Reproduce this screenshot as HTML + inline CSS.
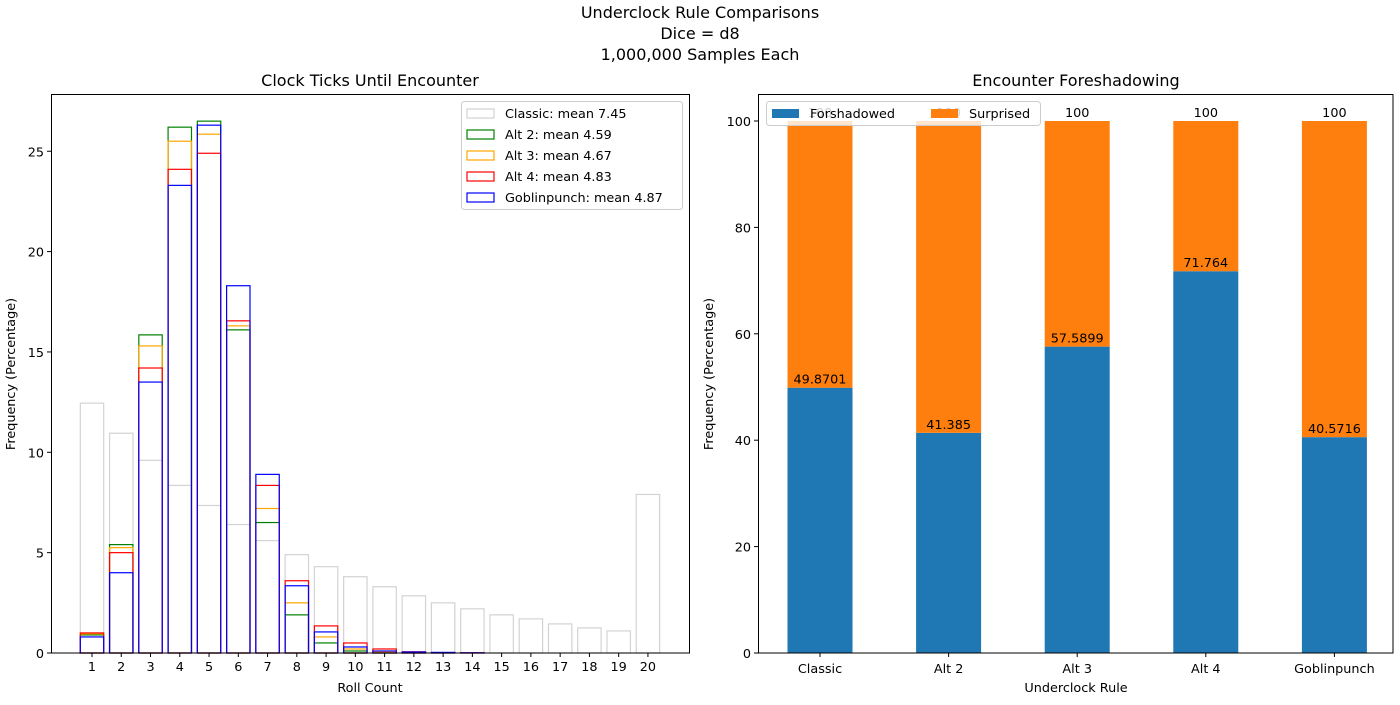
<!DOCTYPE html>
<html><head><meta charset="utf-8"><style>
body{margin:0;background:#fff;}
svg{font-family:"DejaVu Sans","Liberation Sans",sans-serif;}
</style></head><body>
<svg id="c" width="1400" height="700" xmlns="http://www.w3.org/2000/svg">
<text x="700" y="18" text-anchor="middle" font-size="16">Underclock Rule Comparisons</text>
<text x="700" y="39" text-anchor="middle" font-size="16">Dice = d8</text>
<text x="700" y="60" text-anchor="middle" font-size="16">1,000,000 Samples Each</text>
<g id="left"></g>
<g id="right"></g>
</svg>
<script>
const rolls=[1,2,3,4,5,6,7,8,9,10,11,12,13,14,15,16,17,18,19,20];
const classic=[12.45,10.95,9.6,8.35,7.35,6.4,5.6,4.9,4.3,3.8,3.3,2.85,2.5,2.2,1.9,1.7,1.45,1.25,1.1,7.9];
const alt2=[0.9,5.4,15.85,26.2,26.5,16.1,6.5,1.9,0.5,0.1,0.02,0,0,0,0,0,0,0,0,0];
const alt3=[0.95,5.25,15.3,25.5,25.85,16.3,7.2,2.5,0.8,0.2,0.05,0.01,0,0,0,0,0,0,0,0];
const alt4=[1.0,5.0,14.2,24.1,24.9,16.55,8.35,3.6,1.35,0.5,0.2,0.06,0.02,0.01,0,0,0,0,0,0];
const goblin=[0.8,4.0,13.5,23.3,26.3,18.3,8.9,3.35,1.05,0.3,0.1,0.05,0.03,0.01,0,0,0,0,0,0];
const seriesNames=["Classic: mean 7.45","Alt 2: mean 4.59","Alt 3: mean 4.67","Alt 4: mean 4.83","Goblinpunch: mean 4.87"];
const leftTicks=[0,5,10,15,20,25];
const rules=["Classic","Alt 2","Alt 3","Alt 4","Goblinpunch"];
const forshadowed=[49.8701,41.385,57.5899,71.764,40.5716];
const surprised=[50.1299,58.615,42.4101,28.236,59.4284];
const rightTicks=[0,20,40,60,80,100];

const NS="http://www.w3.org/2000/svg";
function mk(p,t,a,txt){const e=document.createElementNS(NS,t);for(const k in a)e.setAttribute(k,a[k]);if(txt!==undefined)e.textContent=txt;p.appendChild(e);return e;}

// LEFT
const L=document.getElementById('left');
const lx=v=>92+(v-1)*29.26, ly=v=>653-v*20.07;
const cols=["#d3d3d3","green","orange","red","blue"];
const sets=[classic,alt2,alt3,alt4,goblin];
sets.forEach((s,si)=>{s.forEach((v,i)=>{
 const r=mk(L,'rect',{x:lx(rolls[i])-11.7,y:ly(v),width:23.4,height:653-ly(v),fill:'none',stroke:cols[si],'stroke-width':1.2});
 
 
});});
mk(L,'rect',{x:51.5,y:94.5,width:638,height:558.5,fill:'none',stroke:'#000','stroke-width':1});
rolls.forEach(r=>{mk(L,'line',{x1:lx(r),x2:lx(r),y1:653,y2:657,stroke:'#000'});
 const t=mk(L,'text',{x:lx(r),y:671,'text-anchor':'middle','font-size':12.8},r);
 });
leftTicks.forEach(v=>{mk(L,'line',{x1:47,x2:51,y1:ly(v),y2:ly(v),stroke:'#000'});
 const t=mk(L,'text',{x:44,y:ly(v)+5,'text-anchor':'end','font-size':12.8},v);
 });
mk(L,'text',{x:370,y:692,'text-anchor':'middle','font-size':12.8,},'Roll Count');
mk(L,'text',{x:15,y:374,'text-anchor':'middle','font-size':12.8,transform:'rotate(-90 15 374)',},'Frequency (Percentage)');
mk(L,'text',{x:370,y:86,'text-anchor':'middle','font-size':16,},'Clock Ticks Until Encounter');
mk(L,'rect',{x:461.5,y:101.5,width:221,height:108,rx:3,fill:'#fff',stroke:'#ccc',});
seriesNames.forEach((n,i)=>{const y=113+i*21;
 mk(L,'rect',{x:467,y:y-4,width:27,height:9,fill:'none',stroke:cols[i],'stroke-width':1.2});
 const t=mk(L,'text',{x:505,y:y+5,'font-size':12.8},n);
 });

// RIGHT
const R=document.getElementById('right');
const rx=i=>820+i*128.6, ry=v=>653-v*5.32;
rules.forEach((r,i)=>{
 const b=mk(R,'rect',{x:rx(i)-32.5,y:ry(forshadowed[i]),width:65,height:653-ry(forshadowed[i]),fill:'#1f77b4'});
 
 const tot=forshadowed[i]+surprised[i];
 const s=mk(R,'rect',{x:rx(i)-32.5,y:ry(tot),width:65,height:ry(forshadowed[i])-ry(tot),fill:'#ff7f0e'});
 
 mk(R,'text',{x:rx(i),y:ry(forshadowed[i])-4,'text-anchor':'middle','font-size':12.8},String(forshadowed[i]));
 mk(R,'text',{x:rx(i),y:ry(tot)-4,'text-anchor':'middle','font-size':12.8},String(Math.round(tot)));
 mk(R,'line',{x1:rx(i),x2:rx(i),y1:653,y2:657,stroke:'#000'});
 const t=mk(R,'text',{x:rx(i),y:673,'text-anchor':'middle','font-size':12.8},r);
 
});
mk(R,'rect',{x:758.5,y:94.5,width:634.5,height:558.5,fill:'none',stroke:'#000'});
rightTicks.forEach(v=>{mk(R,'line',{x1:754,x2:758,y1:ry(v),y2:ry(v),stroke:'#000'});
 const t=mk(R,'text',{x:751,y:ry(v)+5,'text-anchor':'end','font-size':12.8},v);
 });
mk(R,'text',{x:1076,y:692,'text-anchor':'middle','font-size':12.8,},'Underclock Rule');
mk(R,'text',{x:713,y:374,'text-anchor':'middle','font-size':12.8,transform:'rotate(-90 713 374)',},'Frequency (Percentage)');
mk(R,'text',{x:1076,y:86,'text-anchor':'middle','font-size':16,},'Encounter Foreshadowing');
mk(R,'rect',{x:766.5,y:101.5,width:274,height:24,rx:3,fill:'#fff','fill-opacity':0.8,stroke:'#ccc',});
mk(R,'rect',{x:772,y:109,width:27,height:9,fill:'#1f77b4'});
mk(R,'text',{x:810,y:118,'font-size':12.8,},'Forshadowed');
mk(R,'rect',{x:931,y:109,width:27,height:9,fill:'#ff7f0e'});
mk(R,'text',{x:969,y:118,'font-size':12.8,},'Surprised');
</script>
</body></html>
